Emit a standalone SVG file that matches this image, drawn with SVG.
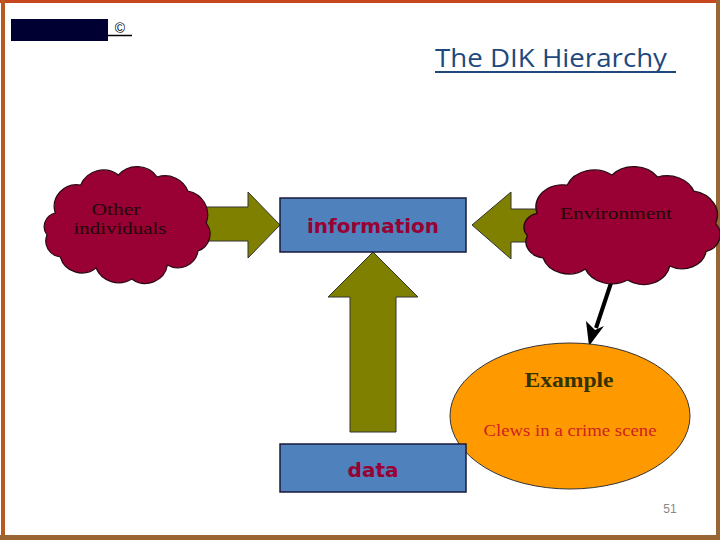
<svg xmlns="http://www.w3.org/2000/svg" width="720" height="540" viewBox="0 0 720 540">
<defs>
<style>
.cloud{fill:#990033;stroke:#2a0a10;stroke-width:1.2}
.box{fill:#4f81bd;stroke:#1a1a3a;stroke-width:1.5}
.arr{fill:#808000;stroke:#333;stroke-width:1}
.ctext{font-family:"Liberation Serif",serif;font-size:17px;fill:#200a0a;text-anchor:middle}
.btext{font-family:"DejaVu Sans",sans-serif;font-weight:bold;font-size:20px;fill:#990033;text-anchor:middle}
</style>
<path id="cloudShape" d="M10,40 A22,22 0 0 1 35,12 A24,24 0 0 1 72,2 A24,24 0 0 1 110,4 A24,24 0 0 1 140,18 A24,24 0 0 1 158,50 A18,18 0 0 1 150,78 A20,20 0 0 1 120,92 A22,22 0 0 1 85,106 A24,24 0 0 1 50,95 A22,22 0 0 1 15,84 A16,16 0 0 1 2,62 A14,14 0 0 1 10,40 Z"/>
</defs>
<rect x="0" y="0" width="720" height="540" fill="#fff"/>
<!-- frame -->
<rect x="0" y="0" width="720" height="3" fill="#c8461e"/>
<rect x="1" y="0" width="4" height="540" fill="#b85a20"/>
<rect x="716" y="0" width="4" height="540" fill="#9a6535"/>
<rect x="0" y="535" width="720" height="5" fill="#9a6535"/>

<g id="logo">
<rect x="11" y="19" width="97" height="22" fill="#000033"/>
<text x="120" y="33" font-family="Liberation Sans,sans-serif" font-size="14" text-anchor="middle" fill="#000">©</text>
<line x1="108" y1="35.5" x2="132" y2="35.5" stroke="#000" stroke-width="1.5"/>
</g>

<g id="title">
<text x="435" y="67" font-family="Open Sans,sans-serif" font-size="26" fill="#1f497d" textLength="232" lengthAdjust="spacingAndGlyphs">The DIK Hierarchy</text>
<line x1="435" y1="72" x2="676" y2="72" stroke="#1f497d" stroke-width="2"/>
</g>

<g id="connectors">
<path class="arr" d="M150,207 L248,207 L248,192 L280,225 L248,258 L248,241 L150,241 Z"/>
<path class="arr" d="M600,209 L511,209 L511,192 L472,225 L511,259 L511,242 L600,242 Z"/>
<path class="arr" d="M350,432 L350,297 L328,297 L373,252 L418,297 L396,297 L396,432 Z"/>
<line x1="612" y1="280" x2="596" y2="328" stroke="#000" stroke-width="4"/>
<polygon points="589,346 586,321 595,330 604,326" fill="#000"/>
</g>

<g id="other-individuals">
<use href="#cloudShape" class="cloud" transform="translate(45,173) scale(1.02,1)"/>
<text class="ctext" x="116" y="215" font-size="16" textLength="49" lengthAdjust="spacingAndGlyphs">Other</text>
<text class="ctext" x="120" y="234" font-size="16" textLength="93" lengthAdjust="spacingAndGlyphs">individuals</text>
</g>

<g id="environment">
<use href="#cloudShape" class="cloud" transform="translate(525,173) scale(1.206,1.01)"/>
<text class="ctext" x="616" y="219" textLength="112" lengthAdjust="spacingAndGlyphs">Environment</text>
</g>

<g id="information">
<rect class="box" x="280" y="198" width="186" height="54"/>
<text class="btext" x="373" y="233">information</text>
</g>

<g id="example">
<ellipse cx="570" cy="416" rx="120" ry="73" fill="#ff9900" stroke="#333" stroke-width="1"/>
<text x="569" y="387" font-family="Liberation Serif,serif" font-weight="bold" font-size="22" fill="#333300" text-anchor="middle" textLength="89" lengthAdjust="spacingAndGlyphs">Example</text>
<text x="570" y="436" font-family="Liberation Serif,serif" font-size="17" fill="#cc2222" text-anchor="middle" textLength="173" lengthAdjust="spacingAndGlyphs">Clews in a crime scene</text>
</g>

<g id="data">
<rect class="box" x="280" y="444" width="186" height="48"/>
<text class="btext" x="373" y="477">data</text>
</g>

<text x="670" y="513" font-family="Liberation Sans,sans-serif" font-size="12" fill="#888" text-anchor="middle">51</text>
</svg>
